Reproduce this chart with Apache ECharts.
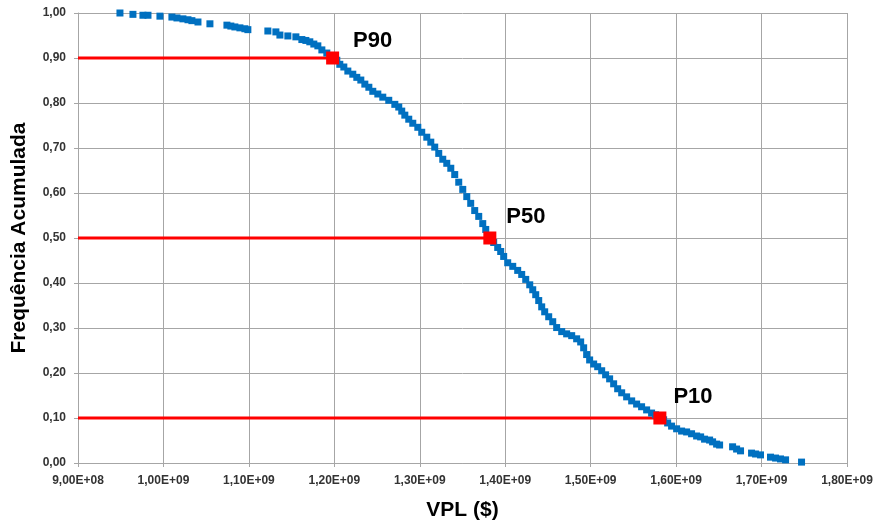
<!DOCTYPE html>
<html>
<head>
<meta charset="utf-8">
<script src="https://cdn.jsdelivr.net/npm/echarts@6/dist/echarts.min.js"></script>
<style>
  html, body { margin: 0; padding: 0; background: #fff; }
  #chart { width: 875px; height: 524px; }
</style>
</head>
<body>
<div id="chart"></div>
<script>
// VPL in billions of $, paired with freq below
const vpl = [
  0.9491, 0.9643, 0.9760, 0.9819, 0.9959, 1.0099, 1.0158, 1.0228, 1.0287, 1.0333,
  1.0404, 1.0544, 1.0743, 1.0789, 1.0836, 1.0895, 1.0953, 1.0988, 1.1222, 1.1316,
  1.1363, 1.1456, 1.1550, 1.1620, 1.1667, 1.1713, 1.1760, 1.1807, 1.1854, 1.1912,
  1.1982, 1.2029, 1.2064, 1.2111, 1.2158, 1.2216, 1.2263, 1.2310, 1.2357, 1.2404,
  1.2450, 1.2509, 1.2567, 1.2637, 1.2708, 1.2754, 1.2789, 1.2825, 1.2871, 1.2918,
  1.2977, 1.3023, 1.3082, 1.3129, 1.3175, 1.3222, 1.3269, 1.3316, 1.3363, 1.3409,
  1.3456, 1.3503, 1.3550, 1.3596, 1.3643, 1.3690, 1.3737, 1.3772, 1.3819, 1.3865,
  1.3912, 1.3947, 1.3982, 1.4029, 1.4088, 1.4146, 1.4193, 1.4240, 1.4287, 1.4322,
  1.4357, 1.4392, 1.4427, 1.4462, 1.4509, 1.4556, 1.4602, 1.4661, 1.4719, 1.4778,
  1.4836, 1.4883, 1.4918, 1.4953, 1.4988, 1.5035, 1.5082, 1.5129, 1.5175, 1.5222,
  1.5269, 1.5316, 1.5363, 1.5421, 1.5480, 1.5538, 1.5596, 1.5655, 1.5713, 1.5760,
  1.5807, 1.5854, 1.5901, 1.5947, 1.6006, 1.6064, 1.6123, 1.6181, 1.6240, 1.6287,
  1.6333, 1.6392, 1.6427, 1.6474, 1.6509, 1.6661, 1.6708, 1.6754, 1.6883, 1.6930,
  1.6988, 1.7105, 1.7164, 1.7222, 1.7281, 1.7468
];
const freq = [
  1.000, 0.997, 0.995, 0.995, 0.993, 0.991, 0.989, 0.987, 0.985, 0.983,
  0.980, 0.976, 0.973, 0.971, 0.969, 0.967, 0.965, 0.963, 0.960, 0.958,
  0.951, 0.949, 0.947, 0.941, 0.939, 0.936, 0.931, 0.927, 0.918, 0.911,
  0.902, 0.895, 0.886, 0.880, 0.871, 0.864, 0.857, 0.851, 0.842, 0.835,
  0.826, 0.820, 0.813, 0.806, 0.797, 0.791, 0.782, 0.773, 0.764, 0.755,
  0.746, 0.735, 0.724, 0.713, 0.702, 0.688, 0.675, 0.666, 0.655, 0.641,
  0.624, 0.608, 0.592, 0.577, 0.561, 0.548, 0.532, 0.519, 0.503, 0.490,
  0.479, 0.470, 0.459, 0.445, 0.437, 0.428, 0.419, 0.408, 0.396, 0.385,
  0.374, 0.361, 0.347, 0.336, 0.325, 0.314, 0.301, 0.292, 0.287, 0.283,
  0.276, 0.269, 0.256, 0.241, 0.229, 0.220, 0.214, 0.205, 0.196, 0.187,
  0.176, 0.165, 0.156, 0.147, 0.138, 0.131, 0.125, 0.118, 0.111, 0.107,
  0.102, 0.096, 0.089, 0.082, 0.076, 0.071, 0.069, 0.065, 0.060, 0.058,
  0.053, 0.051, 0.047, 0.042, 0.040, 0.036, 0.031, 0.027, 0.022, 0.020,
  0.018, 0.013, 0.011, 0.009, 0.007, 0.002
];

const percentis = ['P90', 'P50', 'P10'];
const percentilVpl = [1.198, 1.382, 1.581];
const percentilFreq = [0.90, 0.50, 0.10];

const vplMin = 9e8;
const vplMax = 1.8e9;

// label placement for each percentile marker
const labelOffsets = [[9, -17], [5, -21], [2, -21]];

function sci(v) {
  const e = Math.floor(Math.log10(v) + 1e-9);
  const m = v / Math.pow(10, e);
  return m.toFixed(2).replace('.', ',') + 'E+' + String(e).padStart(2, '0');
}

const gridColor = '#a6a6a6';
const labelStyle = {
  color: '#333',
  fontFamily: 'Liberation Sans',
  fontWeight: 'bold',
  fontSize: 12,
};
const nameStyle = { color: '#000', fontFamily: 'Liberation Sans', fontWeight: 'bold', fontSize: 21 };

const series = [];

percentis.forEach((p, i) => {
  series.push({
    name: p + ' linha',
    type: 'line',
    data: [[vplMin, percentilFreq[i]], [percentilVpl[i] * 1e9, percentilFreq[i]]],
    symbol: 'none',
    lineStyle: { color: '#ff0000', width: 3 },
    z: 2,
    silent: true,
  });
});

series.push({
  name: 'VPL',
  type: 'scatter',
  symbol: 'rect',
  symbolSize: 7,
  itemStyle: { color: '#0070c0', opacity: 1 },
  data: vpl.map((v, i) => [v * 1e9, freq[i]]),
  z: 3,
});

series.push({
  name: 'Percentis',
  type: 'scatter',
  symbol: 'rect',
  symbolSize: 13,
  itemStyle: { color: '#ff0000', opacity: 1 },
  label: {
    show: true,
    position: 'right',
    formatter: '{b}',
    color: '#000',
    fontFamily: 'Liberation Sans',
    fontWeight: 'bold',
    fontSize: 22,
  },
  data: percentis.map((p, i) => ({
    name: p,
    value: [percentilVpl[i] * 1e9, percentilFreq[i]],
    label: { offset: labelOffsets[i] },
  })),
  z: 4,
});

const chart = echarts.init(document.getElementById('chart'), null, { renderer: 'canvas' });
chart.setOption({
  animation: false,
  backgroundColor: '#fff',
  grid: {
    left: 78,
    right: 28,
    top: 13,
    bottom: 61,
    containLabel: false,
    outerBoundsMode: 'none',
  },
  xAxis: {
    type: 'value',
    min: vplMin,
    max: vplMax,
    interval: 1e8,
    name: 'VPL ($)',
    nameLocation: 'middle',
    nameGap: 37,
    nameTextStyle: nameStyle,
    axisLine: { lineStyle: { color: gridColor } },
    axisTick: { show: true, length: 4, lineStyle: { color: gridColor } },
    splitLine: { show: true, lineStyle: { color: gridColor, width: 1 } },
    axisLabel: Object.assign({ margin: 12, formatter: sci }, labelStyle),
  },
  yAxis: {
    type: 'value',
    min: 0,
    max: 1,
    interval: 0.1,
    name: 'Frequência Acumulada',
    nameLocation: 'middle',
    nameGap: 48,
    nameTextStyle: nameStyle,
    axisLine: { show: true, lineStyle: { color: gridColor } },
    axisTick: { show: true, length: 4, lineStyle: { color: gridColor } },
    splitLine: { show: true, lineStyle: { color: gridColor, width: 1 } },
    axisLabel: Object.assign({ margin: 12, formatter: (v) => v.toFixed(2).replace('.', ',') }, labelStyle),
  },
  series: series,
});
</script>
</body>
</html>
